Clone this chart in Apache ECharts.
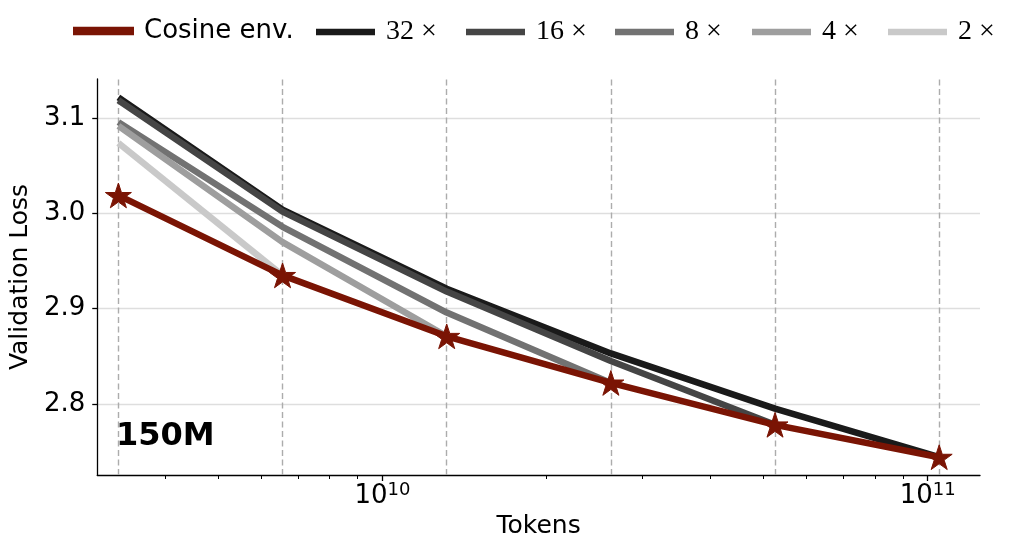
<!DOCTYPE html>
<html>
<head>
<meta charset="utf-8">
<script src="https://cdn.jsdelivr.net/npm/echarts@6/dist/echarts.min.js"></script>
<style>
html,body{margin:0;padding:0;background:#fff;}
#chart{width:1024px;height:557px;}
</style>
</head>
<body>
<div id="chart"></div>
<script>
// ---- data ----
const tokens = [3.28e9, 6.56e9, 1.312e10, 2.624e10, 5.248e10, 1.0496e11];
const cosineEnv = [3.019, 2.935, 2.871, 2.822, 2.778, 2.744];
const run32 = [3.122, 3.004, 2.921, 2.853, 2.795, 2.744];
const run16 = [3.119, 3.002, 2.918, 2.845, 2.778];
const run8  = [3.096, 2.986, 2.896, 2.822];
const run4  = [3.092, 2.970, 2.871];
const run2  = [3.074, 2.935];
const seriesNames = ['Cosine env.', '32 ×', '16 ×', '8 ×', '4 ×', '2 ×'];
const yTicks = [2.8, 2.9, 3.0, 3.1];
const xMajorTicks = [1e10, 1e11];
const xMinorTicks = [4e9, 5e9, 6e9, 7e9, 8e9, 9e9, 2e10, 3e10, 4e10, 5e10, 6e10, 7e10, 8e10, 9e10];
const panelLabel = '150M';

// ---- styling ----
const FONT = 'DejaVu Sans';
const RED = '#7a1404';
const grays = {'32 ×': '#1a1a1a', '16 ×': '#454545', '8 ×': '#727272', '4 ×': '#9e9e9e', '2 ×': '#c9c9c9'};
const STAR = 'path://M50 0 L61.23 34.55 L97.55 34.55 L68.16 55.9 L79.39 90.45 L50 69.1 L20.61 90.45 L31.84 55.9 L2.45 34.55 L38.77 34.55 Z';
const xMin = 3.0e9, xMax = 1.247e11, yMin = 2.7253, yMax = 3.1413;
const LW = 6.5;

function pts(vals) { return vals.map((v, i) => [tokens[i], v]); }

const runs = [['32 ×', run32], ['16 ×', run16], ['8 ×', run8], ['4 ×', run4], ['2 ×', run2]];

const series = [];
series.push({
  type: 'line', name: 'guides', data: pts(cosineEnv), z: 1, zlevel: 0,
  lineStyle: {opacity: 0}, showSymbol: false, symbol: 'none', silent: true,
  markLine: {
    silent: true, symbol: ['none', 'none'], label: {show: false},
    lineStyle: {type: [6, 3.5], color: '#acacac', width: 1.4},
    emphasis: {disabled: true},
    data: tokens.map(t => ({xAxis: t}))
  }
});
runs.forEach(([name, vals], k) => {
  series.push({
    type: 'line', name: name, data: pts(vals), z: 2 + k, zlevel: 1,
    showSymbol: false, symbol: 'none',
    lineStyle: {color: grays[name], width: LW, cap: 'butt', join: 'round'},
    itemStyle: {color: grays[name]}
  });
});
series.push({
  type: 'line', name: 'Cosine env.', data: pts(cosineEnv), z: 10, zlevel: 1,
  symbol: STAR, symbolSize: 26, symbolKeepAspect: true, showSymbol: true,
  lineStyle: {color: RED, width: LW, join: 'round'},
  itemStyle: {color: RED, borderColor: RED, borderWidth: 1}
});

const legendLeft = [73, 316, 466, 615, 752, 888];
const legends = seriesNames.map((n, i) => ({
  data: [{name: n, icon: 'rect'}],
  left: legendLeft[i], top: 18, padding: 0,
  itemWidth: 59, itemHeight: 6.5, selectedMode: false,
  textStyle: i === 0
    ? {fontFamily: FONT, fontSize: 26, color: '#000', padding: [0, 0, 0, 6]}
    : {fontFamily: 'Liberation Serif', fontSize: 28, color: '#000', padding: [0, 0, 0, 6]}
}));

const chart = echarts.init(document.getElementById('chart'), null, {renderer: 'canvas'});
chart.setOption({
  animation: false,
  backgroundColor: '#fff',
  grid: {left: 97, right: 44, top: 79, bottom: 82, containLabel: false},
  legend: legends,
  xAxis: [{
    type: 'log', logBase: 10, min: xMin, max: xMax,
    name: 'Tokens', nameLocation: 'middle', nameGap: 38,
    nameTextStyle: {fontFamily: FONT, fontSize: 25, color: '#000'},
    axisLine: {show: true, lineStyle: {color: '#000', width: 1.3}},
    axisTick: {show: true, length: 6, customValues: xMajorTicks, lineStyle: {color: '#000', width: 1.3}},
    axisLabel: {
      customValues: xMajorTicks, margin: 6, color: '#000',
      formatter: v => '{b|10}{s|' + Math.round(Math.log10(v)) + '}',
      rich: {
        b: {fontFamily: FONT, fontSize: 26, color: '#000'},
        s: {fontFamily: FONT, fontSize: 18, color: '#000', padding: [0, 0, 12, 0]}
      }
    },
    splitLine: {show: false}, minorTick: {show: false}
  }, {
    type: 'log', logBase: 10, min: xMin, max: xMax, gridIndex: 0, position: 'bottom',
    axisLine: {show: false},
    axisTick: {show: true, length: 4, customValues: xMinorTicks, lineStyle: {color: '#000', width: 1}},
    axisLabel: {show: false},
    splitLine: {show: false}
  }],
  yAxis: {
    type: 'value', min: yMin, max: yMax,
    name: 'Validation Loss', nameLocation: 'middle', nameGap: 60,
    nameTextStyle: {fontFamily: FONT, fontSize: 25, color: '#000'},
    axisLine: {show: true, lineStyle: {color: '#000', width: 1.3}},
    axisTick: {show: true, length: 5, customValues: yTicks, lineStyle: {color: '#000', width: 1.3}},
    axisLabel: {customValues: yTicks, margin: 12, fontFamily: FONT, fontSize: 26, color: '#000',
      formatter: v => Number(v).toFixed(1)},
    splitLine: {show: true, lineStyle: {color: '#dedede', width: 1.3}}
  },
  graphic: [{
    type: 'text', left: 116, top: 421, z: 20, zlevel: 1,
    style: {text: panelLabel, font: 'bold 32px "DejaVu Sans"', fill: '#000'}
  }],
  series: series
});
</script>
</body>
</html>
